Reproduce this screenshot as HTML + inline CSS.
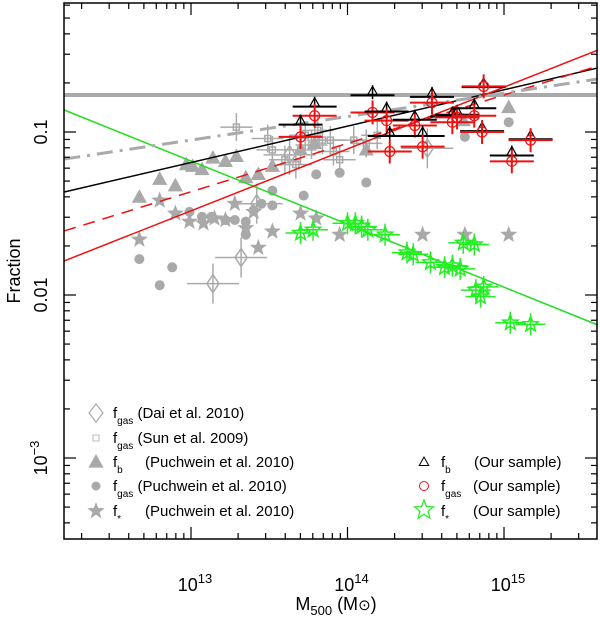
<!DOCTYPE html>
<html><head><meta charset="utf-8"><style>
html,body{margin:0;padding:0;background:#fff;}
svg{display:block;font-family:"Liberation Sans",sans-serif;}
</style></head><body>
<svg id="chart" width="600" height="619" viewBox="0 0 600 619" xmlns="http://www.w3.org/2000/svg">
<rect x="0" y="0" width="600" height="619" fill="#fff"/>
<g id="marks"></g>
<g id="axes"></g>
<text transform="translate(20,271) rotate(-90)" text-anchor="middle" font-size="18" fill="#000">Fraction</text>
<text x="336" y="610" text-anchor="middle" font-size="18" fill="#000">M<tspan font-size="13" dy="5">500</tspan><tspan dy="-5"> (M</tspan><tspan font-size="15">⊙</tspan>)</text>
<g id="legend"></g>
</svg>
<script>
// ---- data (log10 M500, log10 fraction) ----
var puchFbM=[12.67,12.80,12.90,12.97,13.01,13.07,13.14,13.22,13.29,13.35,13.43,13.52,13.70,13.79,14.12,14.74,15.03];
var puchFbF=[-1.40,-1.29,-1.33,-1.20,-1.21,-1.23,-1.16,-1.18,-1.15,-1.28,-1.26,-1.21,-1.11,-1.07,-1.11,-0.93,-0.85];
var puchGasM=[12.67,12.80,12.88,12.99,13.07,13.13,13.22,13.28,13.35,13.35,13.40,13.45,13.52,13.52,13.72,13.80,13.95,14.12,14.75,15.03];
var puchGasF=[-1.78,-1.94,-1.83,-1.49,-1.52,-1.52,-1.54,-1.54,-1.63,-1.55,-1.48,-1.44,-1.36,-1.45,-1.39,-1.26,-1.25,-1.31,-1.03,-0.94];
var puchStarM=[12.67,12.80,12.90,12.99,13.08,13.15,13.22,13.28,13.35,13.40,13.43,13.52,13.70,13.80,13.95,14.48,14.75,15.03];
var puchStarF=[-1.66,-1.42,-1.50,-1.55,-1.56,-1.53,-1.54,-1.44,-1.59,-1.49,-1.71,-1.61,-1.50,-1.53,-1.63,-1.63,-1.63,-1.63];
var daiM=[13.14,13.32,13.42,13.63,14.51];
var daiF=[-1.93,-1.77,-1.44,-1.14,-1.10];
var sunM=[13.29,13.49,13.52,13.60,13.67,13.70,13.73,13.77,13.81,13.84,13.89,13.91,13.95,14.04,14.12,14.19];
var sunF=[-0.97,-1.04,-1.11,-1.17,-1.20,-1.11,-1.02,-1.08,-0.99,-1.05,-1.05,-1.12,-1.17,-1.05,-1.07,-1.02];
var ourM=[13.79,13.70,14.16,14.25,14.27,14.43,14.48,14.54,14.67,14.70,14.81,14.86,14.87,15.05,15.17];
var ourFb=[-0.82,-0.93,-0.75,-0.85,-1.00,-0.90,-1.00,-0.76,-0.88,-0.87,-0.83,-0.97,-0.70,-1.12,-1.02];
var ourFgas=[-0.90,-1.03,-0.88,-0.93,-1.12,-0.96,-1.09,-0.82,-0.94,-0.91,-0.90,-1.00,-0.72,-1.18,-1.05];
var ourStarM=[13.70,13.78,14.00,14.05,14.09,14.13,14.24,14.38,14.42,14.53,14.62,14.67,14.72,14.74,14.81,14.82,14.87,14.85,15.04,15.17];
var ourStarF=[-1.62,-1.60,-1.56,-1.56,-1.58,-1.60,-1.63,-1.74,-1.75,-1.80,-1.83,-1.82,-1.84,-1.68,-1.69,-1.97,-1.95,-2.01,-2.17,-2.18];
var lineNames=['fit-fstar','fit-fb','fit-fgas','fit-fgas-dashed','fit-dashdot'];
var lineStartF=[-0.865,-1.368,-1.791,-1.607,-1.166];
var lineEndF=[-2.184,-0.607,-0.497,-0.595,-0.675];
var lineRangeM=[12.19,15.60];
var cosmicFb=-0.773;
var yTickExp=[-1,-2,-3];
var xTickExp=[13,14,15];

var L=64,R=597,T=3,B=539;
function X(m){return 191+(m-13)*156.5;}
function Y(f){return 132-(f+1)*163;}
var NS='http://www.w3.org/2000/svg';
var marks=document.getElementById('marks');
function mk(tag,attrs,parent){var e=document.createElementNS(NS,tag);for(var k in attrs)e.setAttribute(k,attrs[k]);(parent||marks).appendChild(e);return e;}
function starPts(cx,cy,r){var p=[];for(var i=0;i<10;i++){var a=-Math.PI/2+i*Math.PI/5;var rr=i%2?r*0.42:r;p.push((cx+rr*Math.cos(a)).toFixed(1)+','+(cy+rr*Math.sin(a)).toFixed(1));}return p.join(' ');}
function triPts(cx,cy,r){return cx+','+(cy-r)+' '+(cx-r*0.95)+','+(cy+r*0.7)+' '+(cx+r*0.95)+','+(cy+r*0.7);}

var hl=mk('line',{x1:L,x2:R,y1:Y(cosmicFb),y2:Y(cosmicFb),stroke:'#aaa','stroke-width':4});



for(var i=0;i<sunM.length;i++){var x=X(sunM[i]),y=Y(sunF[i]);
 var g=mk('g',{stroke:'#aaa','stroke-width':1.5,fill:'none'});
 
 
 mk('line',{x1:x-16,x2:x+16,y1:y,y2:y},g);mk('line',{x1:x,x2:x,y1:y-14,y2:y+14},g);mk('rect',{x:x-3,y:y-3,width:6,height:6},g);}
for(var i=0;i<daiM.length;i++){var x=X(daiM[i]),y=Y(daiF[i]);
 var g=mk('g',{stroke:'#aaa','stroke-width':1.5,fill:'none'});
 
 
 mk('line',{x1:x-26,x2:x+26,y1:y,y2:y},g);mk('line',{x1:x,x2:x,y1:y-20,y2:y+20},g);
 mk('polygon',{points:x+','+(y-9)+' '+(x+6)+','+y+' '+x+','+(y+9)+' '+(x-6)+','+y},g);}
for(var i=0;i<puchFbM.length;i++){var t=mk('polygon',{points:triPts(X(puchFbM[i]),Y(puchFbF[i]),8),fill:'#a9a9a9'});
 
 }
for(var i=0;i<puchGasM.length;i++){var c=mk('circle',{cx:X(puchGasM[i]),cy:Y(puchGasF[i]),r:5,fill:'#a9a9a9'});
 
 }
for(var i=0;i<puchStarM.length;i++){var s=mk('polygon',{points:starPts(X(puchStarM[i]),Y(puchStarF[i]),9),fill:'#a9a9a9'});
 
 }

var lstyle=[{s:'#22dd22',d:''},{s:'#000',d:''},{s:'#ee1111',d:''},{s:'#ee1111',d:'12,8'},{s:'#aaa',d:'16,7,3,7',w:3}];
for(var i=0;i<lineNames.length;i++){var ln=mk('line',{x1:X(lineRangeM[0]),x2:X(lineRangeM[1]),y1:Y(lineStartF[i]),y2:Y(lineEndF[i]),stroke:lstyle[i].s,'stroke-width':lstyle[i].w||1.5,'stroke-dasharray':lstyle[i].d});
 
 }

for(var i=0;i<ourM.length;i++){var x=X(ourM[i]),yb=Y(ourFb[i]),yg=Y(ourFgas[i]);
 var g=mk('g',{});
 
 
 mk('line',{x1:x-22,x2:x+22,y1:yb+4,y2:yb+4,stroke:'#000','stroke-width':2},g);
 mk('line',{x1:x,x2:x,y1:yb-6,y2:yb+8,stroke:'#000','stroke-width':1.5},g);
 mk('polygon',{points:triPts(x,yb,5),fill:'none',stroke:'#000','stroke-width':1.2},g);
 var h=mk('g',{stroke:'#ee1111','stroke-width':2,fill:'none'});
 
 
 mk('line',{x1:x-22,x2:x+22,y1:yg,y2:yg},h);mk('line',{x1:x,x2:x,y1:yg-12,y2:yg+12},h);mk('circle',{cx:x,cy:yg,r:5,'stroke-width':1.2},h);}
for(var i=0;i<ourStarM.length;i++){var x=X(ourStarM[i]),y=Y(ourStarF[i]);
 var g=mk('g',{stroke:'#22ee22',fill:'none','stroke-width':1.5});
 
 
 mk('line',{x1:x-15,x2:x+15,y1:y,y2:y},g);mk('line',{x1:x,x2:x,y1:y-11,y2:y+11},g);
 mk('polygon',{points:starPts(x,y,8)},g);}

var ax=document.getElementById('axes');
var fr=mk('rect',{x:L,y:T,width:R-L,height:B-T,fill:'none',stroke:'#000','stroke-width':1.5},ax);


for(var d=-4;d<=0;d++)for(var k=1;k<10;k++){var y=Y(d+Math.log10(k));if(y<T||y>B)continue;var len=k==1?12:6;
 mk('line',{x1:L,x2:L+len,y1:y,y2:y,stroke:'#000','stroke-width':1.2},ax);mk('line',{x1:R-len,x2:R,y1:y,y2:y,stroke:'#000','stroke-width':1.2},ax);}
for(var d=12;d<=15;d++)for(var k=1;k<10;k++){var x=X(d+Math.log10(k));if(x<L||x>R)continue;var len=k==1?12:6;
 mk('line',{x1:x,x2:x,y1:B-len,y2:B,stroke:'#000','stroke-width':1.2},ax);mk('line',{x1:x,x2:x,y1:T,y2:T+len,stroke:'#000','stroke-width':1.2},ax);}
var ylab=['0.1','0.01'];
for(var i=0;i<yTickExp.length;i++){var y=Y(yTickExp[i]);var t;
 if(i<2){t=mk('text',{transform:'translate(47,'+y+') rotate(-90)','text-anchor':'middle','font-size':18},ax);t.textContent=ylab[i];}
 else{t=mk('text',{transform:'translate(47,'+y+') rotate(-90)','text-anchor':'middle','font-size':18},ax);t.innerHTML='10<tspan font-size="13" dy="-8">−3</tspan>';}
 
 }
for(var i=0;i<xTickExp.length;i++){var t=mk('text',{x:X(xTickExp[i])+4,y:591,'text-anchor':'middle','font-size':18},ax);
 t.innerHTML='10<tspan font-size="13" dy="-8">'+xTickExp[i]+'</tspan>';
 
 }

var lg=document.getElementById('legend');
function ltext(x,y,html){var t=mk('text',{x:x,y:y,'font-size':15},lg);t.innerHTML=html;return t;}
var rows=[413,438,462,486,511];
var g;
g=mk('polygon',{points:'96,404 103,413 96,422 89,413',fill:'none',stroke:'#aaa','stroke-width':1.2},lg);


g=mk('rect',{x:93,y:435,width:6,height:6,fill:'none',stroke:'#bbb'},lg);


g=mk('polygon',{points:triPts(96,462,8),fill:'#a9a9a9'},lg);


g=mk('circle',{cx:96,cy:486,r:4.5,fill:'#a9a9a9'},lg);


g=mk('polygon',{points:starPts(96,511,9),fill:'#a9a9a9'},lg);


var leftTxt=['f<tspan font-size="10" dy="6">gas</tspan><tspan dy="-6"> (Dai et al. 2010)</tspan>',
'f<tspan font-size="10" dy="6">gas</tspan><tspan dy="-6"> (Sun et al. 2009)</tspan>',
'f<tspan font-size="10" dy="6">b</tspan><tspan dy="-6" x="145">(Puchwein et al. 2010)</tspan>',
'f<tspan font-size="10" dy="6">gas</tspan><tspan dy="-6"> (Puchwein et al. 2010)</tspan>',
'f<tspan font-size="10" dy="6">*</tspan><tspan dy="-6" x="145">(Puchwein et al. 2010)</tspan>'];
for(var i=0;i<5;i++){var t=ltext(113,rows[i]+5,leftTxt[i]);
 
 }
g=mk('polygon',{points:triPts(424,462,5),fill:'none',stroke:'#000','stroke-width':1},lg);


g=mk('circle',{cx:424,cy:486,r:4.5,fill:'none',stroke:'#ee1111','stroke-width':1},lg);


g=mk('polygon',{points:starPts(424,510,10),fill:'none',stroke:'#22ee22','stroke-width':1.2},lg);


var rightTxt=['f<tspan font-size="10" dy="6">b</tspan><tspan dy="-6" x="474">(Our sample)</tspan>',
'f<tspan font-size="10" dy="6">gas</tspan><tspan dy="-6" x="473">(Our sample)</tspan>',
'f<tspan font-size="10" dy="6">*</tspan><tspan dy="-6" x="473">(Our sample)</tspan>'];
for(var i=0;i<3;i++){var t=ltext(441,rows[i+2]+5,rightTxt[i]);
 
 }
</script>
</body></html>
